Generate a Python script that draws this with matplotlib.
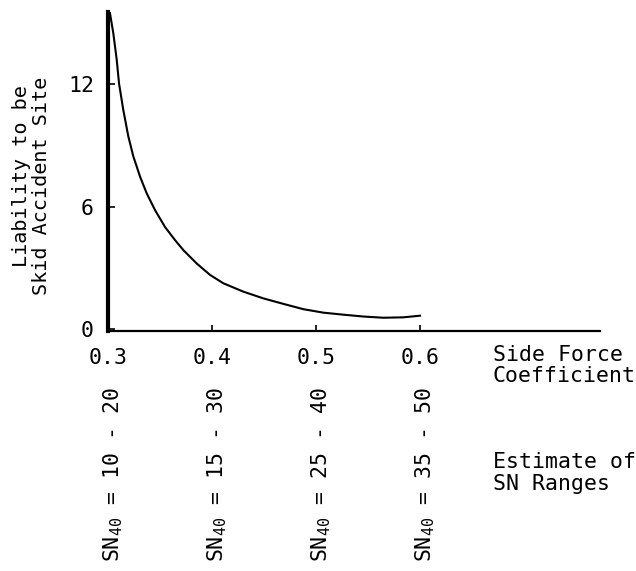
import matplotlib
matplotlib.use("Agg")
import matplotlib.pyplot as plt
import matplotlib.transforms as mtransforms

plt.rcParams['font.family'] = ['DejaVu Sans Mono']
plt.rcParams['mathtext.fontset'] = 'custom'
plt.rcParams['mathtext.rm'] = 'DejaVu Sans Mono'
plt.rcParams['mathtext.it'] = 'DejaVu Sans Mono'

# Curve
sfc = [0.3019, 0.3051, 0.3084, 0.3106, 0.3147, 0.3195, 0.3243, 0.3308,
       0.3372, 0.3452, 0.3548, 0.3644, 0.3724, 0.3853, 0.3981, 0.4109,
       0.4301, 0.4493, 0.4686, 0.4878, 0.5070, 0.5263, 0.5455, 0.5647,
       0.5839, 0.6000]
liability = [15.48, 14.50, 13.19, 12.04, 10.74, 9.45, 8.47, 7.47,
             6.65, 5.83, 5.00, 4.36, 3.87, 3.21, 2.65, 2.24,
             1.83, 1.50, 1.23, 0.97, 0.80, 0.70, 0.61, 0.55,
             0.57, 0.65]

x_ticks = [0.3, 0.4, 0.5, 0.6]
x_tick_labels = ["0.3", "0.4", "0.5", "0.6"]
y_ticks = [0, 6, 12]
y_tick_labels = ["0", "6", "12"]
sn_ranges = ["10 - 20", "15 - 30", "25 - 40", "35 - 50"]

W, H = 636, 571
fig = plt.figure(figsize=(W / 100, H / 100), dpi=100)
left, right, top, bottom = 108, 600, 12, 331
ax = fig.add_axes([left / W, 1 - bottom / H, (right - left) / W, (bottom - top) / H])

ax.plot(sfc, liability, color='black', lw=1.5, solid_joinstyle='round')
ax.set_xlim(0.3, 0.3 + (right - left) / 1040)
ax.set_ylim(-0.1, 15.54)

for s in ['top', 'right']:
    ax.spines[s].set_visible(False)
ax.spines['left'].set_linewidth(3.0)
ax.spines['bottom'].set_linewidth(1.6)

ax.set_xticks(x_ticks)
ax.set_xticklabels(x_tick_labels)
ax.set_yticks(y_ticks)
ax.set_yticklabels(y_tick_labels)
ax.tick_params(axis='x', direction='in', length=4, width=1.2, pad=12, labelsize=15.5)
ax.tick_params(axis='y', direction='in', length=5, width=1.2, pad=10, labelsize=15.5)

fs = 15.5
fig.text(22 / W, 1 - 176 / H, "Liability to be", rotation=90, ha='center', va='center', fontsize=14.5)
fig.text(42 / W, 1 - 186 / H, "Skid Accident Site", rotation=90, ha='center', va='center', fontsize=14.5)

fig.text(493 / W, 1 - 345 / H, "Side Force\nCoefficient", ha='left', va='top', fontsize=fs, linespacing=1.05)
fig.text(493 / W, 1 - 452 / H, "Estimate of\nSN Ranges", ha='left', va='top', fontsize=fs, linespacing=1.1)

trans = mtransforms.blended_transform_factory(ax.transData, fig.transFigure)
for xv, rng in zip(x_ticks, sn_ranges):
    ax.text(xv + 0.005, 1 - 562 / H, r"SN$_{40}$ = " + rng, rotation=90, ha='center', va='bottom',
            fontsize=fs, transform=trans)

fig.savefig("out.png", dpi=100, facecolor='white')
